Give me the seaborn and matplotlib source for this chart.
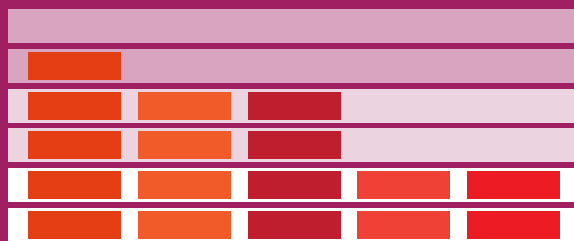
import seaborn as sns
import matplotlib.pyplot as plt

# one entry per row, top to bottom
rows = [0, 1, 2, 3, 4, 5]
row_fill = ['#D8A4C0', '#D8A4C0', '#EBD3DF', '#EBD3DF', '#FFFFFF', '#FFFFFF']
blocks_per_row = [0, 1, 3, 3, 5, 5]
block_colors = ['#E53E15', '#F15A29', '#BE1E2D', '#EF4136', '#ED1C24']
frame_color = '#A01F62'

sns.set_style("white")
fig = plt.figure(figsize=(5.74, 2.41), dpi=100)
fig.patch.set_facecolor(frame_color)
ax = fig.add_axes([0, 0, 1, 1])
ax.set_facecolor(frame_color)

# row bands (pixel units across, row units down)
pitch = 39.8
sns.barplot(x=[574] * len(rows), y=rows, hue=rows, palette=row_fill, orient='h',
            width=34 / pitch, saturation=1, legend=False, linewidth=0, ax=ax)

# left frame strip
ax.axvspan(0, 8, color=frame_color, linewidth=0, zorder=3)

# blocks
for r, n in zip(rows, blocks_per_row):
    for j in range(n):
        ax.barh(r, 93, left=28 + j * 109.75, height=28 / pitch,
                color=block_colors[j], linewidth=0, zorder=4)

ax.set_xlim(0, 574)
ax.set_ylim((241 - 26) / pitch, -26 / pitch)
ax.set_xlabel('')
ax.set_ylabel('')
ax.set_xticks([])
ax.set_yticks([])
sns.despine(left=True, bottom=True)

fig.savefig('out.png', dpi=100, facecolor=frame_color)
